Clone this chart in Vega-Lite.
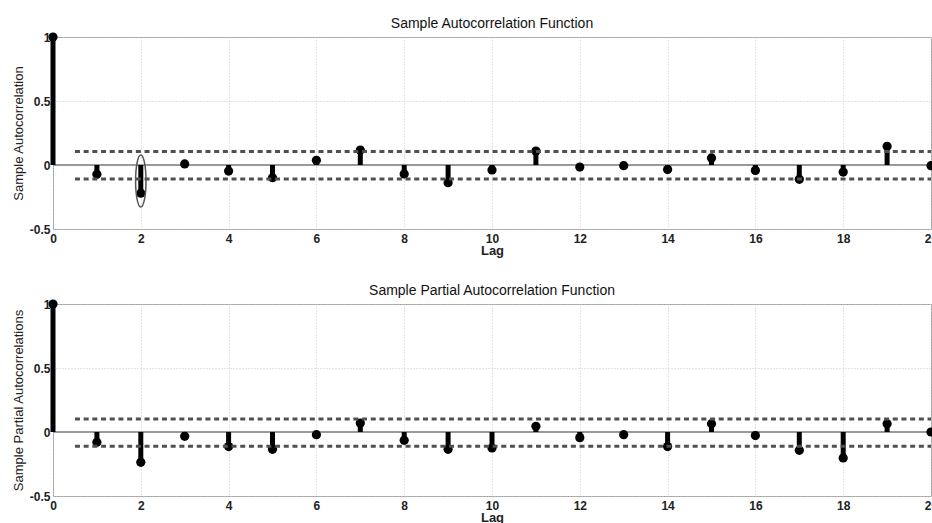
{
  "$schema": "https://vega.github.io/schema/vega-lite/v6.json",
  "padding": {"left": 11, "top": 16, "right": 5, "bottom": 0},
  "background": "white",
  "datasets": {
    "acf": [
      {"lag": 0, "value": 1}, {"lag": 1, "value": -0.073}, {"lag": 2, "value": -0.22}, {"lag": 3, "value": 0.008},
      {"lag": 4, "value": -0.047}, {"lag": 5, "value": -0.099}, {"lag": 6, "value": 0.037}, {"lag": 7, "value": 0.117},
      {"lag": 8, "value": -0.07}, {"lag": 9, "value": -0.138}, {"lag": 10, "value": -0.039}, {"lag": 11, "value": 0.109},
      {"lag": 12, "value": -0.016}, {"lag": 13, "value": -0.005}, {"lag": 14, "value": -0.036}, {"lag": 15, "value": 0.055},
      {"lag": 16, "value": -0.042}, {"lag": 17, "value": -0.112}, {"lag": 18, "value": -0.055}, {"lag": 19, "value": 0.146},
      {"lag": 20, "value": -0.005}
    ],
    "pacf": [
      {"lag": 0, "value": 1}, {"lag": 1, "value": -0.08}, {"lag": 2, "value": -0.237}, {"lag": 3, "value": -0.034},
      {"lag": 4, "value": -0.114}, {"lag": 5, "value": -0.135}, {"lag": 6, "value": -0.021}, {"lag": 7, "value": 0.07},
      {"lag": 8, "value": -0.065}, {"lag": 9, "value": -0.135}, {"lag": 10, "value": -0.125}, {"lag": 11, "value": 0.045},
      {"lag": 12, "value": -0.044}, {"lag": 13, "value": -0.021}, {"lag": 14, "value": -0.114}, {"lag": 15, "value": 0.065},
      {"lag": 16, "value": -0.028}, {"lag": 17, "value": -0.143}, {"lag": 18, "value": -0.203}, {"lag": 19, "value": 0.065},
      {"lag": 20, "value": 0}
    ],
    "acfBounds": [
      {"from": 0.5, "to": 20, "bound": 0.106}, {"from": 0.5, "to": 20, "bound": -0.11}
    ],
    "pacfBounds": [
      {"from": 0.5, "to": 20, "bound": 0.102}, {"from": 0.5, "to": 20, "bound": -0.112}
    ],
    "highlight": [
      {"lag": 2, "value": -0.125}
    ]
  },
  "vconcat": [
    {
      "width": 878,
      "height": 192,
      "title": {"text": "Sample Autocorrelation Function", "fontSize": 14, "fontWeight": "normal", "font": "Liberation Sans", "color": "#111", "offset": 0, "anchor": "middle", "frame": "group"},
      "layer": [
        {
          "data": {"name": "acf"},
          "mark": {"type": "rule", "color": "#999", "strokeWidth": 1},
          "encoding": {"y": {"datum": 0, "type": "quantitative"}}
        },
        {
          "data": {"name": "acf"},
          "mark": {"type": "rule", "color": "black", "strokeWidth": 5, "strokeCap": "butt"},
          "encoding": {
            "x": {"field": "lag", "type": "quantitative", "scale": {"domain": [0, 20], "nice": false, "zero": false},
              "axis": {"values": [0, 2, 4, 6, 8, 10, 12, 14, 16, 18, 20], "title": "Lag", "titleFontSize": 13, "titleFontWeight": "bold", "labelPadding": 4, "titlePadding": 0, "labelFlush": false}},
            "y": {"field": "value", "type": "quantitative", "scale": {"domain": [-0.5, 1], "nice": false},
              "axis": {"values": [-0.5, 0, 0.5, 1], "title": "Sample Autocorrelation", "titleFontSize": 13, "titleFontWeight": "normal", "labelPadding": 3, "titlePadding": 4, "labelExpr": "toString(datum.value)"}},
            "y2": {"datum": 0}
          }
        },
        {
          "data": {"name": "acf"},
          "mark": {"type": "point", "filled": true, "color": "black", "size": 85, "opacity": 1},
          "encoding": {
            "x": {"field": "lag", "type": "quantitative"},
            "y": {"field": "value", "type": "quantitative"}
          }
        },
        {
          "data": {"name": "acfBounds"},
          "mark": {"type": "rule", "color": "#505050", "strokeWidth": 3, "strokeDash": [5, 3.7], "strokeCap": "butt"},
          "encoding": {
            "x": {"field": "from", "type": "quantitative"},
            "x2": {"field": "to"},
            "y": {"field": "bound", "type": "quantitative"}
          }
        },
        {
          "data": {"name": "highlight"},
          "mark": {"type": "point", "filled": false, "color": "#555", "strokeWidth": 1.5, "size": 2704, "opacity": 1,
            "shape": "M0,-1 A0.2,1 0 1,1 0,1 A0.2,1 0 1,1 0,-1 Z"},
          "encoding": {
            "x": {"field": "lag", "type": "quantitative"},
            "y": {"field": "value", "type": "quantitative"}
          }
        }
      ]
    },
    {
      "width": 878,
      "height": 192,
      "title": {"text": "Sample Partial Autocorrelation Function", "fontSize": 14, "fontWeight": "normal", "font": "Liberation Sans", "color": "#111", "offset": 0, "anchor": "middle", "frame": "group"},
      "layer": [
        {
          "data": {"name": "pacf"},
          "mark": {"type": "rule", "color": "#999", "strokeWidth": 1},
          "encoding": {"y": {"datum": 0, "type": "quantitative"}}
        },
        {
          "data": {"name": "pacf"},
          "mark": {"type": "rule", "color": "black", "strokeWidth": 5, "strokeCap": "butt"},
          "encoding": {
            "x": {"field": "lag", "type": "quantitative", "scale": {"domain": [0, 20], "nice": false, "zero": false},
              "axis": {"values": [0, 2, 4, 6, 8, 10, 12, 14, 16, 18, 20], "title": "Lag", "titleFontSize": 13, "titleFontWeight": "bold", "labelPadding": 4, "titlePadding": 0, "labelFlush": false}},
            "y": {"field": "value", "type": "quantitative", "scale": {"domain": [-0.5, 1], "nice": false},
              "axis": {"values": [-0.5, 0, 0.5, 1], "title": "Sample Partial Autocorrelations", "titleFontSize": 13, "titleFontWeight": "normal", "labelPadding": 3, "titlePadding": 4, "labelExpr": "toString(datum.value)"}},
            "y2": {"datum": 0}
          }
        },
        {
          "data": {"name": "pacf"},
          "mark": {"type": "point", "filled": true, "color": "black", "size": 85, "opacity": 1},
          "encoding": {
            "x": {"field": "lag", "type": "quantitative"},
            "y": {"field": "value", "type": "quantitative"}
          }
        },
        {
          "data": {"name": "pacfBounds"},
          "mark": {"type": "rule", "color": "#505050", "strokeWidth": 3, "strokeDash": [5, 3.7], "strokeCap": "butt"},
          "encoding": {
            "x": {"field": "from", "type": "quantitative"},
            "x2": {"field": "to"},
            "y": {"field": "bound", "type": "quantitative"}
          }
        }
      ]
    }
  ],
  "config": {
    "font": "Liberation Sans",
    "view": {"stroke": "#a0a0a0", "strokeWidth": 1},
    "concat": {"spacing": 25},
    "axis": {
      "grid": true, "gridColor": "#c8c8c8", "gridDash": [1, 2], "gridWidth": 1,
      "ticks": false, "domain": false,
      "labelFont": "Liberation Sans", "labelFontSize": 12, "labelFontWeight": "bold", "labelColor": "#222",
      "titleFont": "Liberation Sans", "titleColor": "#222"
    }
  }
}
